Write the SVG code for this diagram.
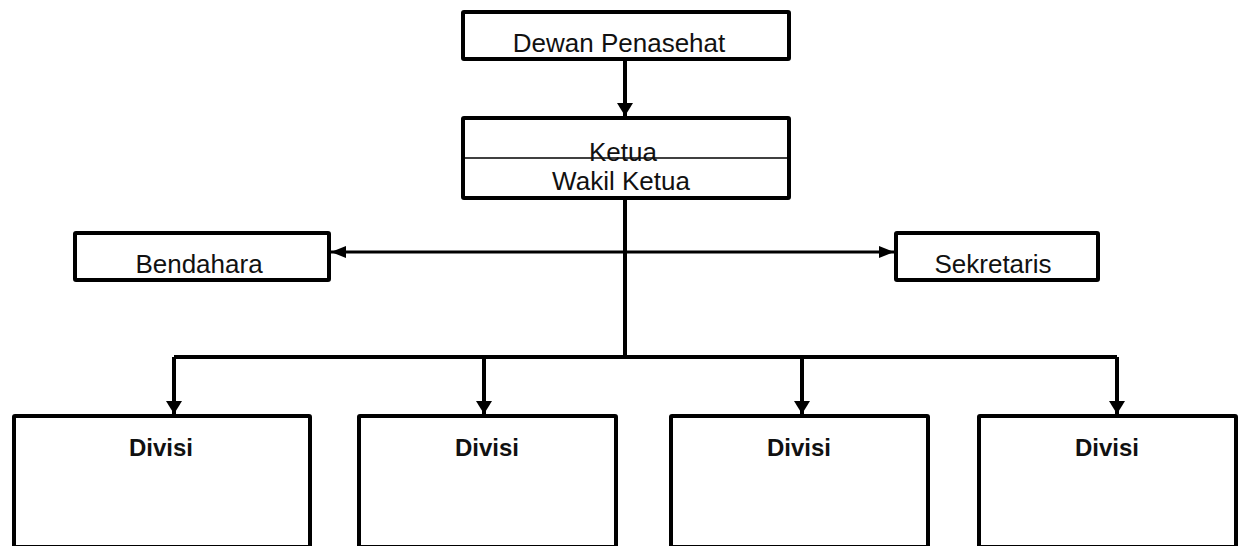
<svg xmlns="http://www.w3.org/2000/svg" width="1245" height="546" viewBox="0 0 1245 546">
<style>
.box{fill:#fff;stroke:#000;stroke-width:4}
.t{font-family:"Liberation Sans",Arial,sans-serif;font-size:26px;fill:#111;text-anchor:middle}
.b{font-family:"Liberation Sans",Arial,sans-serif;font-size:24px;font-weight:bold;fill:#111;text-anchor:middle}
.c{fill:none;stroke:#000;stroke-width:4}
.h{fill:none;stroke:#000;stroke-width:3}
</style>
<defs>
<marker id="av" markerUnits="userSpaceOnUse" markerWidth="13" markerHeight="16" refX="13" refY="8" orient="auto"><path d="M0 0 L13 8 L0 16 Z" fill="#000"/></marker>
<marker id="ah" markerUnits="userSpaceOnUse" markerWidth="15" markerHeight="12" refX="15" refY="6" orient="auto"><path d="M0 0 L15 6 L0 12 Z" fill="#000"/></marker>
</defs>
<rect width="1245" height="546" fill="#fff"/>
<g id="connectors">
<path class="c" d="M625 61 V116" marker-end="url(#av)"/>
<path class="c" d="M625 200 V357"/>
<path class="c" d="M174 357 H1117"/>
<path class="c" d="M174 357 V414" marker-end="url(#av)"/>
<path class="c" d="M484 357 V414" marker-end="url(#av)"/>
<path class="c" d="M802 357 V414" marker-end="url(#av)"/>
<path class="c" d="M1117 357 V414" marker-end="url(#av)"/>
<path class="h" d="M625 252 H331" marker-end="url(#ah)"/>
<path class="h" d="M625 252 H894" marker-end="url(#ah)"/>
</g>
<g id="dewan">
<rect class="box" x="463" y="12" width="326" height="47" rx="1"/>
<text class="t" x="619" y="52">Dewan Penasehat</text>
</g>
<g id="ketua">
<rect class="box" x="463" y="118" width="326" height="80" rx="1"/>
<line x1="463" y1="158" x2="789" y2="158" stroke="#000" stroke-width="1.5"/>
<text class="t" x="623" y="161">Ketua</text>
<text class="t" x="621" y="190">Wakil Ketua</text>
</g>
<g id="bendahara">
<rect class="box" x="75" y="233" width="254" height="47" rx="1"/>
<text class="t" x="199" y="273">Bendahara</text>
</g>
<g id="sekretaris">
<rect class="box" x="896" y="233" width="202" height="47" rx="1"/>
<text class="t" x="993" y="273">Sekretaris</text>
</g>
<g id="divisi1">
<rect class="box" x="14" y="416" width="296" height="131" rx="1"/>
<text class="b" x="161" y="456">Divisi</text>
</g>
<g id="divisi2">
<rect class="box" x="359" y="416" width="257" height="131" rx="1"/>
<text class="b" x="487" y="456">Divisi</text>
</g>
<g id="divisi3">
<rect class="box" x="671" y="416" width="257" height="131" rx="1"/>
<text class="b" x="799" y="456">Divisi</text>
</g>
<g id="divisi4">
<rect class="box" x="979" y="416" width="257" height="131" rx="1"/>
<text class="b" x="1107" y="456">Divisi</text>
</g>
</svg>
